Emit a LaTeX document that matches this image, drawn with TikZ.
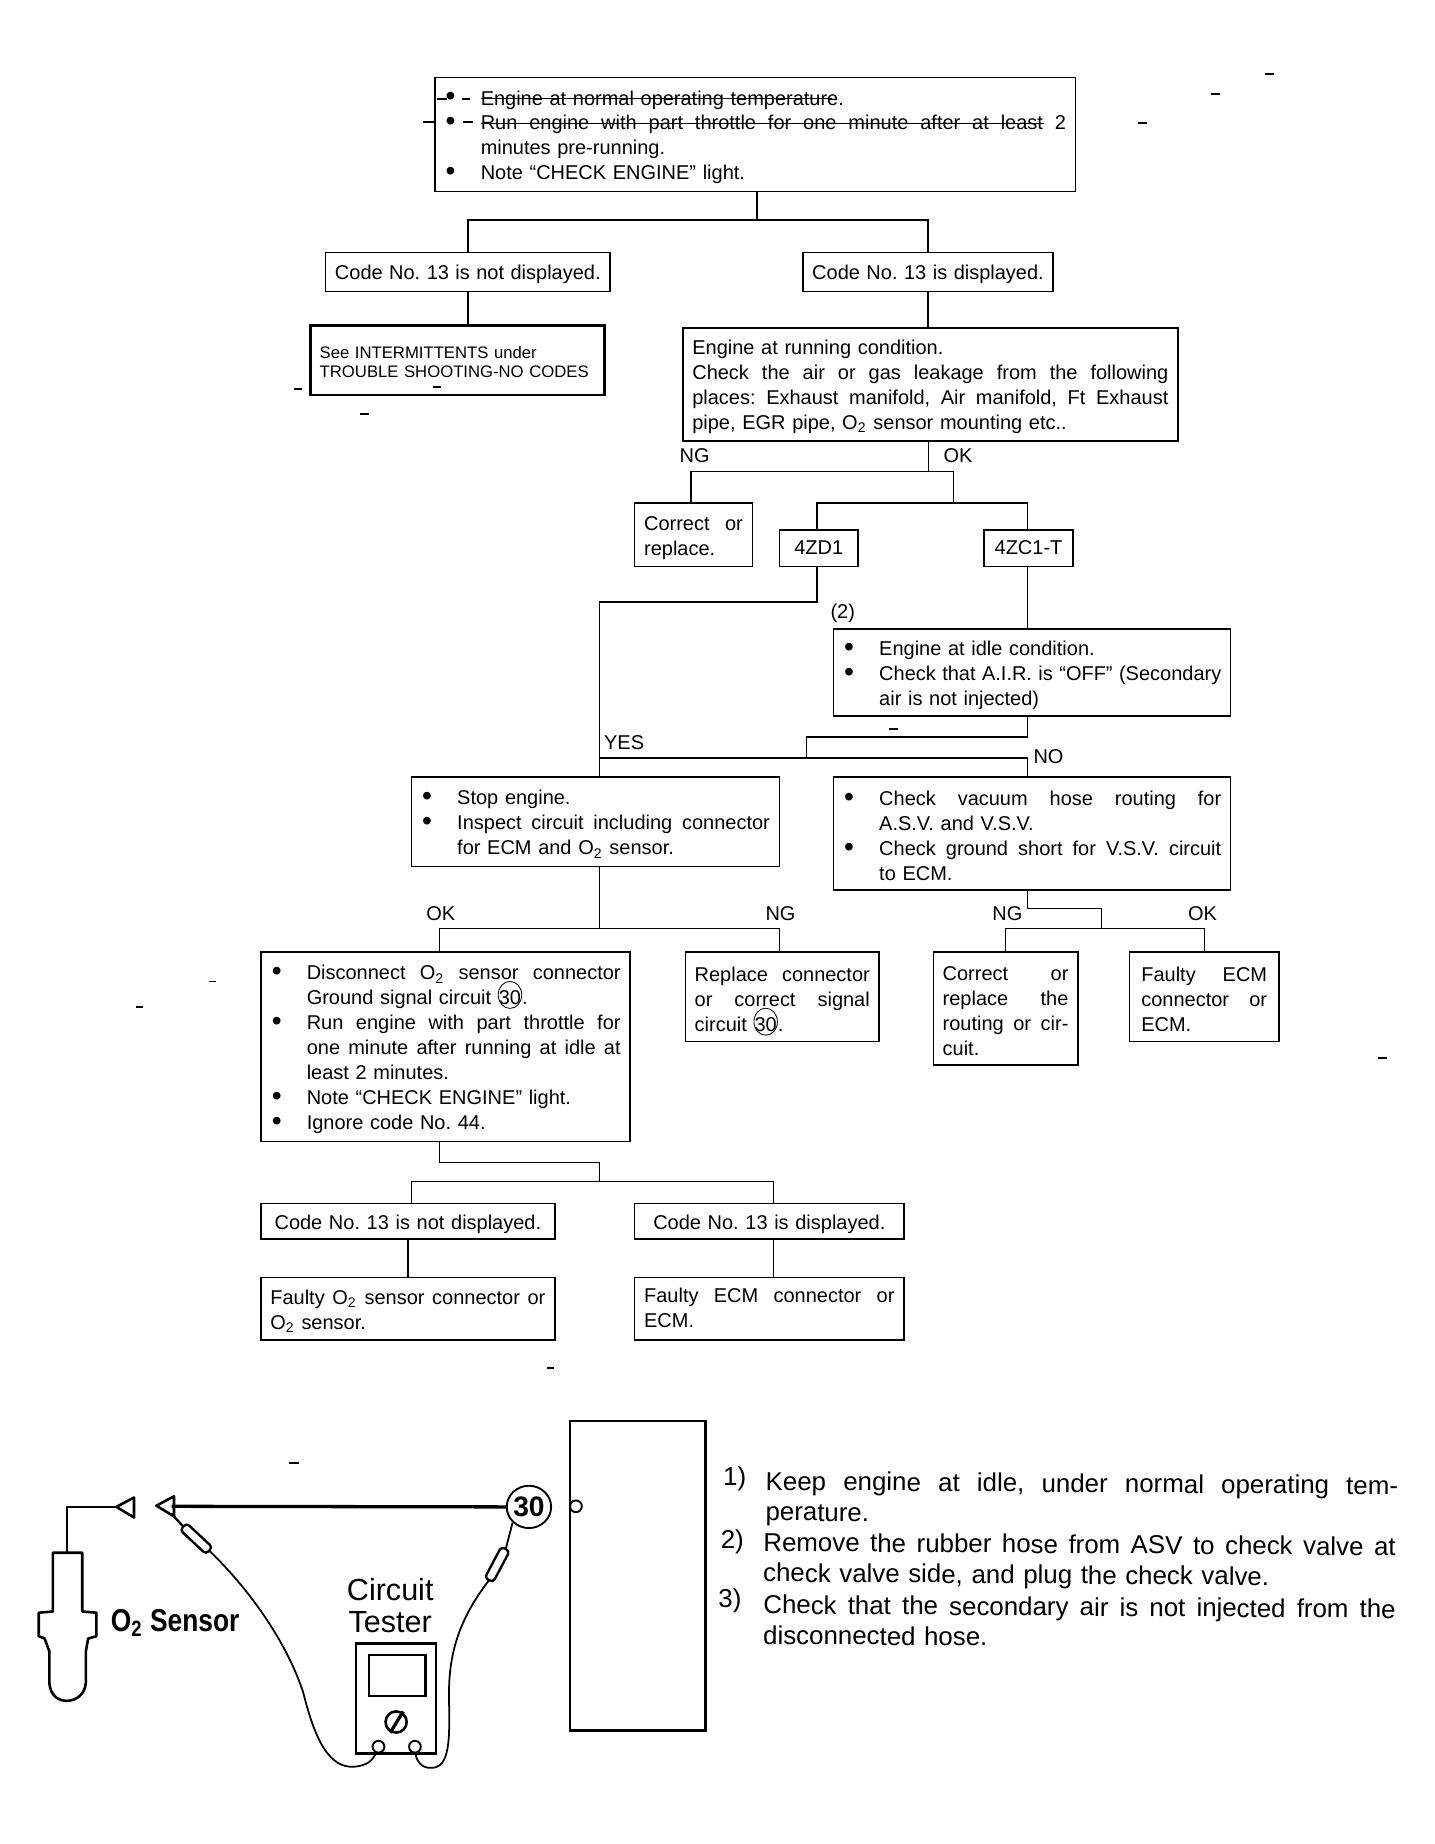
\documentclass[tikz,border=0pt]{standalone}
\usepackage{fontspec}
\setmainfont{Liberation Sans}
\usepackage{graphicx}
\usetikzlibrary{calc,positioning,shapes.geometric}

\frenchspacing
\newlength{\bulw}
\setlength{\bulw}{15.5pt}
\newcommand{\stretchline}[2]{\hbox to #1{\spaceskip=0.278em plus 1fil\relax #2}}
\newcommand{\bulmark}{\makebox[\bulw][l]{\hspace{0.6pt}\raisebox{-0.4pt}{\large\textbullet}}}
\newcommand{\jl}[1]{\leavevmode\stretchline{\hsize}{#1}}
\newcommand{\bl}[1]{\bulmark#1}
\newcommand{\blj}[1]{\bulmark\stretchline{\dimexpr\hsize-\bulw\relax}{#1}}
\newcommand{\hang}[1]{\hspace*{\bulw}#1}
\newcommand{\hangj}[1]{\hspace*{\bulw}\stretchline{\dimexpr\hsize-\bulw\relax}{#1}}
\newcommand{\sub}{\textsubscript{2}}
\newcommand{\cthirty}{\smash{\tikz[baseline=(cn.base)]\node[draw,ellipse,line width=0.35pt,inner sep=-1.5pt,
  text width=,align=center,minimum width=10pt,minimum height=11.5pt] (cn) {30};}}

\tikzset{
  flowbox/.style 2 args={draw,line width=0.65pt,inner xsep=4pt,inner ysep=0pt,align=left,
    font=\fontsize{8.5}{10.6}\selectfont,execute at begin node={\leavevmode\rule{0pt}{8.4pt}},
    minimum width=#1*0.5pt,minimum height=#2*0.5pt,text width={#1*0.5pt-8pt}},
  flowlabel/.style={inner sep=0pt,font=\fontsize{8.5}{10.6}\selectfont},
  conn/.style={line width=0.6pt},
  heavy/.style={line width=1.1pt},
  wire/.style={line width=0.75pt},
  probe/.style={draw,line width=1pt,rounded corners=1.5pt,inner sep=0pt,minimum width=15pt,minimum height=4pt},
  pin/.style={draw,circle,fill=white,line width=0.8pt,inner sep=0pt,minimum size=5pt},
  notenum/.style={inner sep=0pt,font=\fontsize{11}{13}\selectfont},
  noteitem/.style={inner sep=0pt,anchor=west,text width=269pt,align=left,rotate=-0.4,
    font=\fontsize{11}{13}\selectfont},
  scanmark/.style={line width=0.4pt}
}

\begin{document}
\begin{tikzpicture}[x=0.5pt,y=-0.5pt]
  \useasboundingbox (0,0) rectangle (1220,1568.8);

  % Upper part of the chart
  \node[flowbox={545}{97}] (startbox) at (642.5,114.5) {%
    \bl{Engine at normal operating temperature.}\\
    \blj{Run engine with part throttle for one minute after at least 2}\\
    \hang{minutes pre-running.}\\
    \bl{Note ``CHECK ENGINE'' light.}};
  \node[flowbox={242}{33}] (codeno) at (398,231.5) {\jl{Code No. 13 is not displayed.}};
  \node[flowbox={213}{33}] (codeyes) at (789.5,231.5) {\jl{Code No. 13 is displayed.}};
  \node[flowbox={250}{59},line width=1.2pt,font=\fontsize{7.1}{8}\selectfont] (seebox) at (389,306.5) {%
    \raisebox{1pt}{See INTERMITTENTS under}\\\raisebox{1pt}{TROUBLE SHOOTING-NO CODES}};
  \node[flowbox={421}{96}] (runbox) at (791.5,327) {%
    Engine at running condition.\\
    \jl{Check the air or gas leakage from the following}\\
    \jl{places: Exhaust manifold, Air manifold, Ft Exhaust}\\
    pipe, EGR pipe, O\sub{} sensor mounting etc..};
  \node[flowbox={100}{54}] (replbox) at (590,455) {\jl{Correct or}\\replace.};
  \node[flowbox={67}{31},align=center] (zdbox) at (696.5,466.5) {\raisebox{1.5pt}{4ZD1}};
  \node[flowbox={76}{31},align=center] (zcbox) at (875,466.5) {\raisebox{1.5pt}{4ZC1-T}};

  % Middle part
  \node[flowbox={338}{74}] (idlebox) at (878,572) {%
    \bl{Engine at idle condition.}\\
    \blj{Check that A.I.R. is ``OFF'' (Secondary}\\
    \hang{air is not injected)}};
  \node[flowbox={313}{76}] (stopbox) at (506.5,699) {%
    \bl{Stop engine.}\\
    \blj{Inspect circuit including connector}\\
    \hang{for ECM and O\sub{} sensor.}};
  \node[flowbox={338}{96}] (vacbox) at (878,709) {%
    \blj{Check vacuum hose routing for}\\
    \hang{A.S.V. and V.S.V.}\\
    \blj{Check ground short for V.S.V. circuit}\\
    \hang{to ECM.}};
  \node[flowbox={314}{161}] (discbox) at (379,890.5) {%
    \blj{Disconnect O\sub{} sensor connector}\\
    \hang{Ground signal circuit \cthirty.}\\
    \blj{Run engine with part throttle for}\\
    \hangj{one minute after running at idle at}\\
    \hang{least 2 minutes.}\\
    \bl{Note ``CHECK ENGINE'' light.}\\
    \bl{Ignore code No. 44.}};
  \node[flowbox={165}{76}] (connbox) at (665.5,848) {%
    \jl{Replace connector}\\\jl{or correct signal}\\circuit \cthirty.};
  \node[flowbox={123}{96}] (routbox) at (855.5,858) {%
    \jl{Correct or}\\\jl{replace the}\\\jl{routing or cir-}\\cuit.};
  \node[flowbox={127}{76},inner xsep=5pt,text width=53.5pt] (ecmbox) at (1024.5,848) {%
    \jl{Faulty ECM}\\\jl{connector or}\\ECM.};

  % Lower part
  \node[flowbox={250}{30},align=center] (codenob) at (347,1039) {Code No. 13 is not displayed.};
  \node[flowbox={229}{30},align=center] (codeyesb) at (654.5,1039) {Code No. 13 is displayed.};
  \node[flowbox={250}{53}] (sensorbox) at (347,1113.5) {%
    \jl{Faulty O\sub{} sensor connector or}\\O\sub{} sensor.};
  \node[flowbox={229}{53}] (faultbox) at (654.5,1113.5) {%
    \jl{Faulty ECM connector or}\\ECM.\rule[-2.8pt]{0pt}{1pt}};

  % Branch labels
  \node[flowlabel] (lblngleak) at (591,388) {NG};
  \node[flowlabel] (lblokleak) at (815,388) {OK};
  \node[flowlabel] (lbltwo) at (717,522) {(2)};
  \node[flowlabel] (lblyes) at (531,632) {YES};
  \node[flowlabel] (lblno) at (892,644) {NO};
  \node[flowlabel] (lblokstop) at (375,777) {OK};
  \node[flowlabel] (lblngstop) at (664,777) {NG};
  \node[flowlabel] (lblngvac) at (857,777) {NG};
  \node[flowlabel] (lblokvac) at (1023,777) {OK};

  % Junctions
  \coordinate (startj) at (644,187);
  \coordinate (leakj) at (790,401);
  \coordinate (leakr) at (811,401);
  \coordinate (modelj) at (811,428);
  \coordinate (zdj) at (510,512);
  \coordinate (idlej) at (686,627);
  \coordinate (yesj) at (686,645);
  \coordinate (stopj) at (510,790);
  \coordinate (vacj) at (937,773);
  \coordinate (vacb) at (937,790);
  \coordinate (discj) at (510,989);
  \coordinate (discb) at (510,1005);

  % Connectors
  \draw[conn] (startbox.south -| startj) -- (startj);
  \draw[conn] (codeno.north) |- (startj) -| (codeyes.north);
  \draw[conn] (codeno.south) -- (codeno.south |- seebox.north);
  \draw[conn] (codeyes.south) -- (codeyes.south |- runbox.north);
  \draw[conn] (runbox.south -| leakj) -- (leakj);
  \draw[conn] ([xshift=-1pt]replbox.north) |- (leakr) -- (modelj);
  \draw[conn] ([xshift=-0.7pt]zdbox.north) |- (modelj) -| ([xshift=-0.5pt]zcbox.north);
  \draw[conn] ([xshift=-0.7pt]zdbox.south) |- (zdj) -- (zdj |- stopbox.north);
  \draw[conn] ([xshift=-0.5pt]zcbox.south) -- ([xshift=-0.5pt]zcbox.south |- idlebox.north);
  \draw[conn] (idlebox.south -| zcbox.south) ++(-0.5pt,0) |- (idlej) -- (yesj);
  \draw[conn] (zdj |- yesj) -- (yesj) -| ([xshift=-2pt]vacbox.north);
  \draw[conn] (stopj |- stopbox.south) -- (stopj);
  \draw[conn] ([xshift=-2.5pt]discbox.north) |- (stopj) -| ([xshift=-1.2pt]connbox.north);
  \draw[conn] ([xshift=-2pt]vacbox.south) |- (vacj) -- (vacb);
  \draw[conn] (routbox.north) |- (vacb) -| (ecmbox.north);
  \draw[conn] ([xshift=-2.5pt]discbox.south) |- (discj) -- (discb);
  \draw[conn] ([xshift=1.5pt]codenob.north) |- (discb) -| ([xshift=1.8pt]codeyesb.north);
  \draw[conn] (codenob.south) -- (sensorbox.north);
  \draw[conn] ([xshift=1.8pt]codeyesb.south) -- ([xshift=1.8pt]faultbox.north);

  % Sensor
  \draw[heavy,line join=round] (45,1321) -- (70,1321) -- (70,1371) -- (82,1372) -- (82,1392) -- (75,1394) -- (73,1405)
    -- (73,1432) .. controls (72,1443) and (63,1447) .. (57,1447) .. controls (50,1447) and (43,1443) .. (42,1432)
    -- (42,1405) -- (38,1394) -- (33,1392) -- (33,1372) -- (45,1371) -- cycle;
  \coordinate (sensortop) at (57,1321);
  \coordinate (triangsens) at (99,1282);
  \draw[heavy] (sensortop) |- (triangsens);
  \draw[heavy,line join=round] (triangsens) -- (114,1274) -- (114,1291) -- cycle;
  \node[inner sep=0pt,font=\bfseries\fontsize{11.2}{14}\selectfont] (sensorlbl) at (149,1381) {\scalebox{1}[1.2]{O\textsubscript{2} Sensor}};

  % Tester and leads
  \coordinate (triangtest) at (133,1281);
  \node[draw,ellipse,line width=0.8pt,inner sep=0pt,minimum width=16pt,minimum height=18pt,font=\bfseries\fontsize{12}{12}\selectfont] (cnode) at (450,1282) {30};
  \draw[heavy,line join=round] (triangtest) -- (148,1273) -- (148,1290) -- cycle;
  \draw[line width=1.4pt] (146,1281.5) -- (cnode.west);
  \node[probe,rotate=-43] (probeleft) at (167,1309) {};
  \node[probe,rotate=62] (proberight) at (423,1331) {};
  \draw[heavy] (303,1398) rectangle (371,1492);
  \draw[heavy] (314,1408) rectangle (362,1443);
  \draw[heavy] (337,1465) circle (4.5pt);
  \draw[line width=1.4pt] (332,1474) -- (343,1456);
  \node[pin] (termleft) at (322,1486) {};
  \node[pin] (termright) at (353,1486) {};
  \draw[wire,line width=1pt] (146,1288) -- (probeleft.west);
  \draw[wire] (proberight.east) -- (cnode.south west);
  \draw[wire] (probeleft.east) .. controls (215,1355) and (245,1400) .. (258,1440) .. controls (268,1480) and (280,1505) .. (302,1503) .. controls (312,1502) and (317,1498) .. (termleft);
  \draw[wire] (proberight.west) .. controls (395,1372) and (382,1400) .. (382,1440) .. controls (382,1470) and (385,1503) .. (368,1504) .. controls (358,1505) and (354,1497) .. (termright);
  \node[inner sep=0pt,font=\fontsize{13}{15}\selectfont] (testlblone) at (332,1352) {Circuit};
  \node[inner sep=0pt,font=\fontsize{13}{15}\selectfont] (testlbltwo) at (332,1380) {Tester};

  % ECM panel
  \draw[heavy] (485,1209) rectangle (600,1472);
  \node[pin,fill=none] (panelpin) at (490,1281.5) {};

  % Notes
  \node[notenum] (numone) at (625,1258) {1)};
  \node[notenum] (numtwo) at (623,1312) {2)};
  \node[notenum] (numthree) at (621,1362) {3)};
  \node[noteitem] (noteone) at (651,1275) {\jl{Keep engine at idle, under normal operating tem-}\\perature.};
  \node[noteitem] (notetwo) at (649,1327) {\jl{Remove the rubber hose from ASV to check valve at}\\check valve side, and plug the check valve.};
  \node[noteitem] (notethree) at (649,1378) {\jl{Check that the secondary air is not injected from the}\\disconnected hose.};

  % Scan marks
  \draw[scanmark] (409,84) -- (708,84) (409,105) -- (888,105);
  \foreach \x/\y/\w in {360/104/10,372/84/8,393/84/7,394/104/8,1030/80/8,1076/63/8,968/105/8,250/331/7,306/352/8,368/329/7,756/620/8,178/835/6,116/857/6,1172/900/8,246/1245/8,465/1164/6} {
    \draw[scanmark,line width=0.8pt] (\x,\y) -- ++(\w,0);
  }
\end{tikzpicture}
\end{document}
